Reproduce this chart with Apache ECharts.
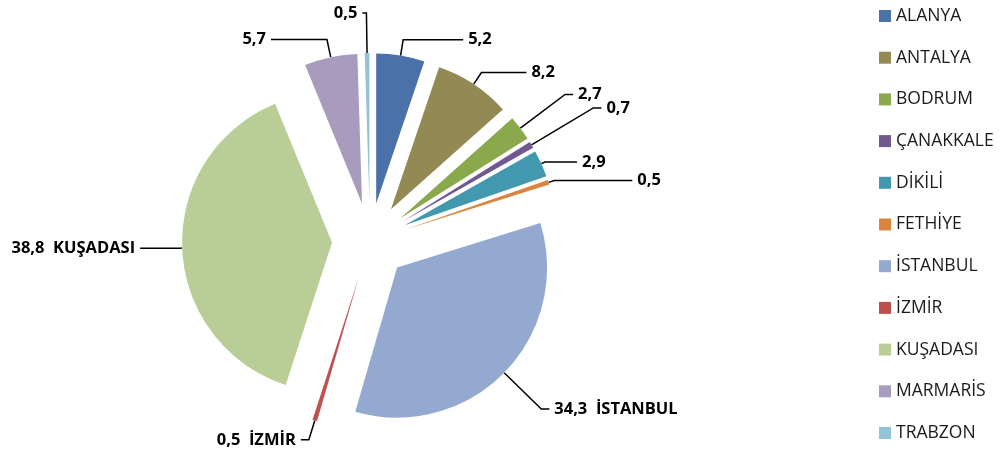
<!DOCTYPE html>
<html>
<head>
<meta charset="utf-8">
<script src="https://cdn.jsdelivr.net/npm/echarts@6/dist/echarts.min.js"></script>
<style>
  html, body { margin: 0; padding: 0; background: #fff; }
  #chart { width: 1005px; height: 455px; }
</style>
</head>
<body>
<div id="chart"></div>
<script>
// veriler (yüzde)
const cities = ['ALANYA', 'ANTALYA', 'BODRUM', 'ÇANAKKALE', 'DİKİLİ', 'FETHİYE',
  'İSTANBUL', 'İZMİR', 'KUŞADASI', 'MARMARİS', 'TRABZON'];
const shares = [5.2, 8.2, 2.7, 0.7, 2.9, 0.5, 34.3, 0.5, 38.8, 5.7, 0.5];
// etikette şehir adı da yazılanlar
const namedLabels = ['İSTANBUL', 'İZMİR', 'KUŞADASI'];

const colors = ['#4A72A8', '#938953', '#8AA94C', '#71588F', '#4198AF', '#DB843D',
  '#94A9CF', '#C0504D', '#B9CD96', '#A99BBD', '#92C4D6'];

// etiket çizgisi uzunlukları [length, length2]
const lineLens = {
  'ALANYA': [16, 60], 'ANTALYA': [14, 45], 'BODRUM': [56, 8], 'ÇANAKKALE': [72, 8],
  'DİKİLİ': [4, 32], 'FETHİYE': [6, 78], 'İSTANBUL': [52, 8], 'İZMİR': [20, 8],
  'KUŞADASI': [2, 40], 'MARMARİS': [18, 56], 'TRABZON': [40, 4]
};

const chart = echarts.init(document.getElementById('chart'));

const pieData = cities.map(function (c, i) {
  return {
    name: c,
    value: shares[i],
    selected: true,
    labelLine: { length: lineLens[c][0], length2: lineLens[c][1] }
  };
});

const option = {
  animation: false,
  color: colors,
  legend: {
    orient: 'vertical',
    left: 879,
    top: 7,
    padding: 0,
    itemWidth: 12,
    itemHeight: 12,
    itemGap: 23.7,
    icon: 'rect',
    textStyle: { fontFamily: 'Open Sans', fontSize: 17.5, color: '#1a1a1a' },
    data: cities
  },
  series: [{
    type: 'pie',
    center: [370, 241],
    radius: 150,
    startAngle: 90,
    clockwise: true,
    selectedMode: 'multiple',
    selectedOffset: 38,
    avoidLabelOverlap: false,
    labelLayout: { hideOverlap: false },
    emphasis: { disabled: true },
    itemStyle: { borderWidth: 0 },
    label: {
      position: 'outside',
      fontFamily: 'Open Sans',
      fontWeight: 'bold',
      fontSize: 16.5,
      color: '#000',
      formatter: function (p) {
        const v = String(p.value).replace('.', ',');
        return namedLabels.indexOf(p.name) >= 0 ? v + '  ' + p.name : v;
      }
    },
    labelLine: {
      show: true,
      lineStyle: { color: '#000', width: 1.5 }
    },
    data: pieData
  }]
};

chart.setOption(option);
</script>
</body>
</html>
